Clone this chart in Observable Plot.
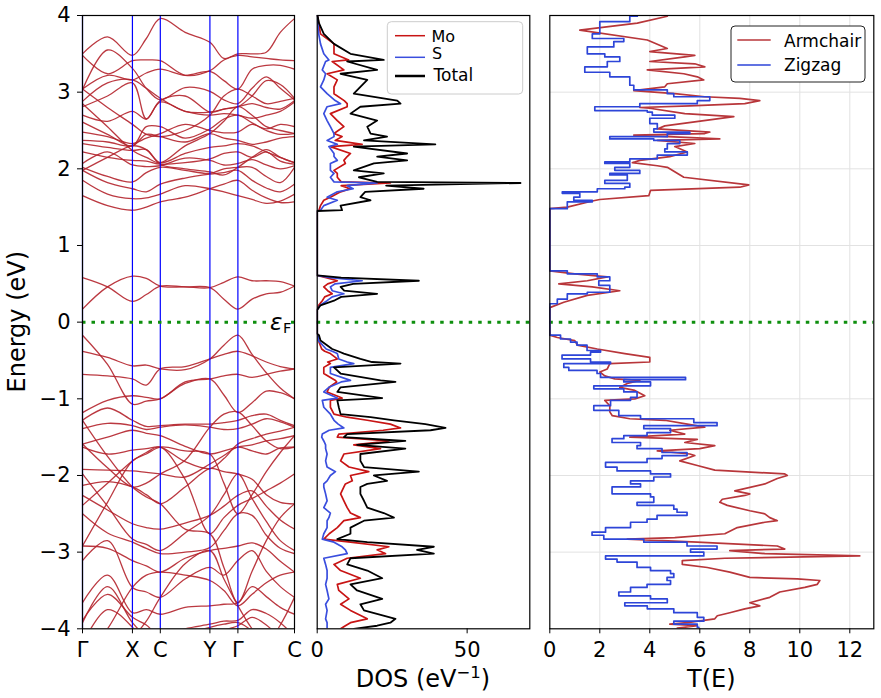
<!DOCTYPE html>
<html><head><meta charset="utf-8">
<script src="https://cdn.jsdelivr.net/npm/d3@7"></script>
<script src="https://cdn.jsdelivr.net/npm/@observablehq/plot@0.6"></script>
<style>
body{margin:0;background:#fff;}
#wrap{position:relative;width:881px;height:698px;overflow:hidden;background:#fff;font-family:"DejaVu Sans",sans-serif;}
#wrap svg{position:absolute;top:0;}
</style>
</head><body><div id="wrap"></div>
<script>
// ---------- Band structure ----------
const kSamples = [0, 0.118, 0.2355, 0.301, 0.367, 0.484, 0.601, 0.667, 0.733, 0.80, 0.867, 0.933, 1.0];
const kTicks = [0, 0.2355, 0.367, 0.601, 0.733, 1];
const kLabels = ["Γ", "X", "C", "Y", "Γ", "C"];
const eTicks = [-4, -3, -2, -1, 0, 1, 2, 3, 4];

const condBands = [
  [0.17, 0.46, 0.60, 0.57, 0.47, 0.46, 0.45, 0.52, 0.59, 0.54, 0.54, 0.53, 0.47],
  [0.58, 0.46, 0.27, 0.36, 0.47, 0.46, 0.45, 0.30, 0.17, 0.30, 0.37, 0.39, 0.47],
  [1.65, 1.52, 1.46, 1.50, 1.57, 1.63, 1.74, 1.80, 1.85, 1.72, 1.62, 1.56, 1.57],
  [1.85, 1.67, 1.61, 1.62, 1.67, 1.78, 1.74, 1.70, 1.65, 1.60, 1.55, 1.58, 1.67],
  [1.98, 1.82, 1.74, 1.70, 1.80, 1.88, 1.93, 1.95, 1.98, 1.85, 1.75, 1.70, 1.80],
  [2.02, 1.90, 1.83, 1.95, 2.02, 1.98, 1.94, 2.00, 2.02, 2.02, 1.90, 1.82, 2.02],
  [2.07, 2.22, 2.05, 2.03, 2.04, 2.14, 2.11, 2.05, 2.07, 2.12, 2.05, 2.00, 2.04],
  [2.22, 2.15, 2.11, 2.10, 2.06, 2.08, 2.13, 2.20, 2.22, 2.15, 2.22, 2.10, 2.06],
  [2.33, 2.28, 2.24, 2.25, 2.08, 2.20, 2.28, 2.30, 2.33, 2.30, 2.22, 2.15, 2.08],
  [2.37, 2.35, 2.30, 2.45, 2.42, 2.35, 2.46, 2.40, 2.37, 2.32, 2.35, 2.40, 2.42],
  [2.48, 2.42, 2.33, 2.40, 2.46, 2.58, 2.50, 2.47, 2.48, 2.58, 2.50, 2.45, 2.46],
  [2.61, 2.45, 2.30, 2.55, 2.55, 2.40, 2.52, 2.65, 2.70, 2.60, 2.52, 2.58, 2.55],
  [2.70, 2.62, 2.75, 2.65, 2.87, 2.75, 2.70, 2.72, 2.70, 2.66, 2.70, 2.75, 2.87],
  [2.81, 2.95, 3.12, 2.65, 2.89, 2.95, 2.74, 2.78, 2.81, 2.85, 2.80, 2.78, 2.89],
  [2.88, 3.12, 3.16, 3.05, 2.92, 2.75, 2.74, 2.78, 2.81, 2.95, 3.15, 3.10, 2.92],
  [3.03, 3.55, 3.31, 3.05, 2.90, 3.06, 3.01, 2.90, 2.85, 3.05, 3.20, 3.05, 2.90],
  [3.04, 3.22, 3.16, 3.25, 3.30, 3.22, 3.27, 3.15, 3.04, 3.30, 3.35, 3.35, 3.30],
  [3.48, 3.24, 3.41, 3.42, 3.41, 3.22, 3.28, 3.42, 3.48, 3.46, 3.44, 3.42, 3.41],
  [3.50, 3.72, 3.48, 3.70, 3.96, 3.78, 3.65, 3.44, 3.50, 3.50, 3.52, 3.78, 3.96],
  [1.98, 2.15, 2.30, 2.25, 2.06, 2.00, 1.96, 1.92, 2.02, 2.15, 2.25, 2.15, 2.08],
  [2.85, 2.55, 2.24, 2.15, 2.08, 2.30, 2.46, 2.62, 2.81, 2.70, 2.55, 2.50, 2.46],
  [3.04, 2.80, 2.58, 2.45, 2.42, 2.50, 2.70, 2.95, 3.04, 2.95, 2.85, 2.88, 2.92]
];
const valBands = [
  [-0.17, -0.55, -1.07, -1.03, -1.00, -0.80, -0.74, -0.95, -1.18, -1.05, -0.90, -0.92, -1.00],
  [-0.38, -0.46, -0.57, -0.56, -0.61, -0.62, -0.48, -0.30, -0.17, -0.42, -0.66, -0.86, -1.00],
  [-0.68, -0.70, -0.74, -0.82, -0.61, -0.58, -0.48, -0.42, -0.38, -0.44, -0.52, -0.58, -0.61],
  [-1.18, -1.02, -0.96, -0.98, -1.00, -0.78, -0.74, -0.70, -0.68, -0.72, -0.68, -0.64, -0.61],
  [-1.28, -1.12, -1.28, -1.36, -1.35, -1.33, -1.33, -1.31, -1.28, -1.22, -1.20, -1.28, -1.35],
  [-1.39, -1.32, -1.35, -1.40, -1.37, -1.34, -1.37, -1.40, -1.39, -1.33, -1.26, -1.30, -1.37],
  [-1.59, -1.50, -1.41, -1.45, -1.48, -1.62, -1.72, -1.68, -1.63, -1.60, -1.55, -1.52, -1.48],
  [-1.63, -1.72, -1.67, -1.65, -1.63, -1.82, -1.91, -1.78, -1.59, -1.52, -1.46, -1.42, -1.37],
  [-1.92, -1.93, -1.94, -1.96, -1.98, -2.02, -1.85, -1.74, -1.63, -1.68, -1.72, -1.64, -1.63],
  [-2.39, -2.10, -1.81, -1.70, -1.63, -2.05, -2.76, -2.55, -2.39, -2.30, -2.20, -2.10, -1.98],
  [-2.13, -2.08, -2.15, -2.25, -2.37, -2.15, -1.91, -1.95, -1.98, -2.05, -2.25, -2.35, -2.37],
  [-2.26, -2.45, -2.63, -2.68, -2.70, -2.62, -2.52, -2.40, -2.26, -2.20, -2.40, -2.58, -2.70],
  [-1.98, -2.40, -2.83, -2.90, -2.98, -2.75, -2.52, -2.25, -1.98, -2.30, -2.60, -2.85, -2.98],
  [-2.50, -2.75, -2.87, -2.95, -3.02, -3.00, -2.94, -2.72, -2.50, -2.52, -2.78, -2.95, -3.02],
  [-2.92, -2.95, -3.11, -3.18, -3.26, -3.08, -2.98, -2.95, -2.92, -2.88, -2.96, -3.12, -3.26],
  [-3.11, -2.85, -3.46, -3.52, -3.59, -3.35, -3.20, -3.30, -3.11, -2.98, -3.25, -3.45, -3.59],
  [-3.66, -3.30, -3.79, -3.75, -3.81, -3.72, -3.70, -3.68, -3.66, -3.45, -3.58, -3.72, -3.81],
  [-3.89, -3.55, -3.85, -3.95, -4.10, -4.00, -3.94, -3.90, -3.89, -3.75, -3.80, -3.92, -4.10],
  [-3.92, -3.45, -3.92, -4.10, -4.20, -4.08, -3.98, -3.94, -3.92, -4.02, -4.12, -4.05, -4.20],
  [-4.20, -3.75, -3.98, -4.25, -4.30, -4.20, -4.10, -4.02, -3.96, -3.85, -3.95, -4.12, -4.30],
  [-2.92, -2.35, -1.81, -1.72, -1.63, -1.68, -1.72, -2.10, -2.50, -2.25, -1.95, -1.70, -1.48],
  [-1.28, -1.75, -2.15, -2.28, -2.37, -2.70, -2.76, -3.20, -3.66, -3.25, -2.85, -2.55, -2.37],
  [-4.40, -4.00, -3.46, -3.30, -3.26, -3.30, -3.37, -3.50, -3.70, -3.55, -3.40, -3.30, -3.26],
  [-4.50, -4.20, -4.10, -3.90, -3.59, -3.15, -2.98, -3.35, -3.70, -4.00, -4.20, -3.95, -3.59],
  [-1.59, -1.90, -2.15, -2.10, -1.98, -1.80, -1.37, -1.20, -1.17, -1.35, -1.55, -1.65, -1.63]
];

// ---------- DOS (eV^-1) ----------
const dosE_val = [-4.00,-3.96,-3.92,-3.87,-3.76,-3.68,-3.61,-3.50,-3.42,-3.34,-3.24,-3.16,-3.08,-3.02,-2.97,-2.93,-2.87,-2.83,-2.76,-2.68,-2.59,-2.55,-2.49,-2.42,-2.33,-2.24,-2.15,-2.11,-2.07,-2.00,-1.95,-1.89,-1.81,-1.72,-1.65,-1.60,-1.55,-1.50,-1.46,-1.41,-1.38,-1.33,-1.28,-1.24,-1.20,-1.11,-1.02,-0.99,-0.91,-0.85,-0.78,-0.76,-0.67,-0.59,-0.54,-0.52,-0.48,-0.41,-0.38,-0.35,-0.24,-0.17,-0.15];
const dosTot_val = [12.2,20.0,24.4,26.1,15.6,14.4,21.7,13.3,11.1,21.7,16.7,10.0,11.1,38.9,33.3,38.9,16.7,6.7,11.1,11.1,15.6,25.6,22.2,16.7,15.6,14.4,14.4,16.7,23.3,18.9,33.9,15.6,14.4,14.4,29.4,13.3,29.4,8.9,10.0,37.8,42.8,36.1,25.6,17.8,7.8,7.2,6.7,21.7,6.7,7.8,26.1,21.1,7.8,5.6,27.8,18.3,14.4,8.9,7.0,5.0,1.1,0.6,0];
const dosMo_val = [7.8,9.4,11.1,16.7,11.1,7.8,10.6,7.2,6.7,14.4,7.8,5.6,10.0,22.8,20.0,23.9,11.1,2.2,4.0,6.7,8.9,14.4,11.1,10.0,8.9,7.8,8.9,9.4,11.7,11.1,17.2,10.6,7.8,8.9,21.1,12.2,23.9,6.7,7.2,22.0,27.8,24.4,16.7,10.0,5.6,4.4,4.4,8.3,3.3,4.0,6.5,6.1,2.2,2.2,4.4,3.5,6.7,4.4,2.5,1.5,0.4,0.3,0];
const dosS_val = [3.3,3.3,3.3,2.8,3.3,2.8,3.9,3.3,2.8,3.3,3.3,2.8,2.2,10.0,9.4,8.3,5.6,1.7,2.2,3.3,3.3,3.9,4.4,2.2,3.3,2.8,2.2,2.2,3.3,4.4,6.1,3.3,2.8,3.3,2.8,2.8,2.2,1.5,1.7,4.0,8.9,7.0,5.6,5.0,4.4,2.2,1.7,6.7,2.2,3.9,8.0,11.1,4.4,4.4,12.2,10.0,7.2,6.7,5.0,3.0,0.4,0.3,0];

const dosE_mid = [0.16,0.22,0.28,0.33,0.37,0.41,0.46,0.50,0.54,0.58,0.61];
const dosTot_mid = [0,1.1,5.6,8.0,20.0,9.0,7.8,12.0,33.9,8.0,0];
const dosMo_mid = [0,0.5,1.7,2.5,5.0,3.5,2.2,3.5,6.7,3.0,0];
const dosS_mid = [0,1.0,3.3,5.0,8.9,5.0,4.4,6.0,15.0,4.4,0];

const dosE_con = [1.45,1.46,1.52,1.59,1.63,1.70,1.74,1.78,1.815,1.83,1.89,1.94,1.98,2.07,2.11,2.16,2.20,2.29,2.32,2.37,2.42,2.46,2.55,2.63,2.72,2.81,2.85,2.89,2.98,3.07,3.16,3.24,3.29,3.40,3.42,3.50,3.63,3.76,3.90,3.98,4.00];
const dosTot_con = [0,8.3,7.8,17.8,14.4,16.0,35.5,23.0,67.8,20.0,13.9,22.2,12.2,18.9,30.0,20.0,30.0,12.2,39.4,15.6,23.3,17.8,16.7,20.0,11.1,14.4,27.8,26.7,12.2,14.4,16.7,7.8,20.0,10.0,22.2,11.1,5.6,2.2,0.6,0.2,0];
const dosMo_con = [0,0.6,1.1,2.2,4.4,7.8,11.0,8.0,24.4,8.0,6.7,6.7,5.6,9.4,8.9,10.0,11.1,4.4,15.0,6.0,8.3,5.6,8.9,6.7,4.4,10.0,10.0,9.0,5.6,5.6,6.7,3.3,8.9,5.0,10.5,5.6,5.6,1.1,0.5,0.2,0];
const dosS_con = [0,1.1,2.2,6.7,3.3,6.7,12.0,10.0,20.0,5.6,4.4,5.6,4.4,4.4,6.7,5.6,5.6,3.9,6.7,3.3,5.6,5.6,4.4,3.3,2.2,3.3,7.8,6.0,3.3,1.1,2.2,2.8,1.7,2.8,3.9,2.2,1.1,0.5,0.2,0.1,0];

// ---------- Transmission T(E) ----------
const armE_val = [-3.99,-3.96,-3.94,-3.92,-3.87,-3.83,-3.79,-3.74,-3.70,-3.66,-3.59,-3.52,-3.46,-3.42,-3.37,-3.35,-3.33,-3.26,-3.20,-3.16,-3.11,-3.08,-3.05,-3.02,-2.98,-2.96,-2.92,-2.87,-2.83,-2.81,-2.76,-2.68,-2.61,-2.59,-2.55,-2.50,-2.46,-2.39,-2.35,-2.31,-2.26,-2.24,-2.20,-2.11,-2.04,-2.00,-1.98,-1.93,-1.87,-1.81,-1.74,-1.72,-1.68,-1.65,-1.61,-1.57,-1.53,-1.50,-1.46,-1.41,-1.37,-1.33,-1.28,-1.26,-1.22,-1.17,-1.09,-1.02,-1.00,-0.96,-0.89,-0.85,-0.80,-0.76,-0.74,-0.70,-0.65,-0.61,-0.54,-0.52,-0.46,-0.41,-0.35,-0.30,-0.24,-0.20,-0.17];
const armT_val = [5.1,5.9,4.8,5.5,6.6,6.7,7.2,7.8,8.4,8.0,8.8,9.2,10.2,10.7,10.8,9.9,8.0,7.2,6.3,5.3,5.3,7.0,12.4,8.6,7.2,9.4,9.1,5.9,3.1,5.0,7.0,7.5,8.6,9.1,8.8,8.6,8.0,7.1,6.8,6.9,7.8,8.0,7.4,8.6,9.1,9.5,9.4,6.6,5.9,5.2,5.8,5.6,4.3,6.0,6.6,5.4,5.9,3.2,5.4,4.8,6.2,5.5,4.6,3.2,2.5,2.4,2.4,2.2,3.4,3.8,3.4,2.8,3.1,3.6,2.6,2.2,2.0,2.3,2.4,4.0,4.0,3.0,1.9,1.1,1.0,0.3,0];
const armE_mid = [0.19,0.26,0.35,0.41,0.46,0.50,0.54,0.59,0.63,0.67];
const armT_mid = [0,0.56,1.5,2.8,1.7,0.36,1.5,2.3,1.0,0];
const armE_con = [1.48,1.50,1.58,1.60,1.65,1.72,1.76,1.79,1.89,2.02,2.04,2.08,2.11,2.16,2.22,2.29,2.33,2.37,2.39,2.44,2.46,2.48,2.52,2.56,2.68,2.72,2.79,2.80,2.82,2.85,2.89,2.92,2.94,2.98,3.02,3.07,3.11,3.16,3.20,3.24,3.29,3.33,3.37,3.40,3.46,3.48,3.53,3.57,3.68,3.81,3.90,3.99];
const armT_con = [0,0.7,1.7,2.0,3.96,4.03,7.6,7.96,5.36,4.7,4.3,3.3,3.6,4.8,5.5,5.0,5.8,4.3,6.8,3.36,6.2,6.4,4.3,4.6,7.36,5.4,4.0,3.6,5.6,7.8,8.4,7.6,6.2,5.0,3.36,4.6,4.7,6.16,5.9,5.36,3.9,6.2,5.8,4.0,5.4,5.8,4.0,4.7,3.9,1.2,3.5,4.7];

const zigE_val = [-4.00,-3.98,-3.94,-3.90,-3.85,-3.79,-3.74,-3.70,-3.66,-3.61,-3.57,-3.52,-3.46,-3.42,-3.37,-3.33,-3.28,-3.24,-3.20,-3.13,-3.09,-3.05,-3.00,-2.96,-2.92,-2.87,-2.83,-2.78,-2.74,-2.68,-2.61,-2.57,-2.52,-2.48,-2.44,-2.39,-2.35,-2.28,-2.24,-2.15,-2.11,-2.07,-2.02,-1.98,-1.94,-1.89,-1.83,-1.78,-1.74,-1.70,-1.65,-1.61,-1.57,-1.52,-1.48,-1.44,-1.39,-1.35,-1.31,-1.26,-1.22,-1.15,-1.09,-1.02,-0.98,-0.91,-0.87,-0.83,-0.78,-0.75,-0.72,-0.67,-0.63,-0.59,-0.54,-0.52,-0.48,-0.43,-0.39,-0.37,-0.30,-0.26,-0.22,-0.17];
const zigT_val = [5.96,5.9,4.96,6.16,5.9,4.96,3.9,3.0,4.7,4.03,2.76,3.23,3.89,4.83,4.69,4.96,4.83,4.03,3.49,2.69,2.23,6.16,5.63,6.69,5.49,3.76,2.16,1.69,2.23,3.23,3.89,4.29,5.49,5.09,4.96,3.49,4.16,4.03,2.49,3.63,3.23,4.16,4.83,4.03,2.69,2.23,3.89,4.49,5.49,4.49,3.49,3.63,2.49,2.96,3.89,4.83,3.76,6.69,5.76,3.63,2.76,1.76,2.43,3.23,3.49,2.96,1.76,4.03,2.96,5.43,2.03,1.89,0.76,0.56,2.43,1.63,0.49,1.63,2.03,1.49,1.09,0.83,0.43,0];
const zigE_mid = [0.17,0.24,0.30,0.37,0.39,0.45,0.48,0.54,0.59,0.63,0.67];
const zigT_mid = [0,0.3,0.7,1.5,2.4,2.4,1.96,2.4,1.9,0.7,0];
const zigE_con = [1.44,1.48,1.57,1.59,1.63,1.68,1.70,1.74,1.76,1.81,1.85,1.92,1.94,1.98,2.02,2.07,2.09,2.13,2.18,2.22,2.26,2.33,2.37,2.39,2.42,2.46,2.48,2.52,2.59,2.66,2.70,2.74,2.76,2.81,2.85,2.89,2.94,2.98,3.03,3.09,3.16,3.20,3.26,3.33,3.40,3.46,3.50,3.59,3.66,3.70,3.76,3.85,3.92,3.99];
const zigT_con = [0,0.7,1.7,0.96,1.2,0.5,1.9,3.0,3.2,2.2,3.1,2.4,3.6,2.6,3.2,2.2,3.2,4.3,5.5,4.6,4.7,5.2,4.16,2.4,4.7,5.6,4.16,4.3,4.0,5.0,4.1,3.9,1.8,3.6,5.9,6.4,4.96,4.7,3.36,3.2,3.2,2.4,1.4,2.3,2.8,2.2,1.5,2.56,2.96,1.7,2.0,2.0,3.2,3.5];

const tTicks = [0, 2, 4, 6, 8, 10, 12];
const dosTicks = [0, 50];

// ---------- build tables ----------
const allBands = condBands.concat(valBands);
const bandRows = allBands.flatMap((b, i) => b.map((e, j) => ({band: i, k: kSamples[j], E: e})));
const dosE = dosE_val.concat(dosE_mid, dosE_con);
const dosTot = dosTot_val.concat(dosTot_mid, dosTot_con);
const dosMo = dosMo_val.concat(dosMo_mid, dosMo_con);
const dosS = dosS_val.concat(dosS_mid, dosS_con);
const dosRows = dosE.map((e, i) => ({E: e, mo: dosMo[i], s: dosS[i], tot: dosTot[i]}));
const armT = armT_val.concat(armT_mid, armT_con);
const zigT = zigT_val.concat(zigT_mid, zigT_con);
const armRows = armE_val.concat(armE_mid, armE_con).map((e, i) => ({E: e, T: armT[i]}));
const zigRows = zigE_val.concat(zigE_mid, zigE_con).map((e, i) => ({E: e, T: zigT[i]}));

const fmtE = d => (d < 0 ? "\u2212" + Math.abs(d) : String(d));
const GREEN = "#0e8f0e";
const baseStyle = {fontFamily: "DejaVu Sans", fontSize: "21px", color: "black", background: "transparent", overflow: "visible"};
const H = 698, MT = 15, MB = 69.7;

const p1 = Plot.plot({
  width: 300, height: H, marginLeft: 82, marginRight: 6, marginTop: MT, marginBottom: MB,
  style: baseStyle,
  x: {domain: [0, 1]},
  y: {domain: [-4, 4]},
  marks: [
    Plot.line(bandRows, {x: "k", y: "E", z: "band", stroke: "#b4242c", strokeOpacity: 0.9, strokeWidth: 1.3, curve: "catmull-rom", clip: true}),
    Plot.ruleX(kTicks.slice(0, 5), {stroke: "#0000ff", strokeWidth: 1.2}),
    Plot.ruleY([0], {stroke: GREEN, strokeWidth: 3, strokeDasharray: "3.5,6"}),
    Plot.frame({stroke: "black", strokeWidth: 1.2}),
    Plot.axisX({ticks: kTicks, tickFormat: d => kLabels[kTicks.indexOf(d)], tickSize: 5, tickPadding: 8, label: null}),
    Plot.axisY({ticks: eTicks, tickFormat: fmtE, tickSize: 5, tickPadding: 7, label: null})
  ]
});
p1.style.left = "0px";

const p2 = Plot.plot({
  width: 240, height: H, marginLeft: 16.7, marginRight: 10.7, marginTop: MT, marginBottom: MB,
  style: baseStyle,
  x: {domain: [0, 70.9]},
  y: {domain: [-4, 4], axis: null},
  marks: [
    Plot.ruleY([0], {stroke: GREEN, strokeWidth: 3, strokeDasharray: "3.5,6"}),
    Plot.line(dosRows, {x: "mo", y: "E", stroke: "#c81414", strokeWidth: 1.7, clip: true}),
    Plot.line(dosRows, {x: "s", y: "E", stroke: "#3a4ede", strokeWidth: 1.7, clip: true}),
    Plot.line(dosRows, {x: "tot", y: "E", stroke: "black", strokeWidth: 1.8, clip: true}),
    Plot.frame({stroke: "black", strokeWidth: 1.2}),
    Plot.axisX({ticks: dosTicks, tickSize: 5, tickPadding: 8, label: null})
  ]
});
p2.style.left = "300px";

const p3 = Plot.plot({
  width: 351, height: H, marginLeft: 19.3, marginRight: 7.7, marginTop: MT, marginBottom: MB,
  style: baseStyle,
  x: {domain: [0, 12.96]},
  y: {domain: [-4, 4], axis: null},
  marks: [
    Plot.ruleX(tTicks.slice(1), {stroke: "#e2e2e2", strokeWidth: 1}),
    Plot.ruleY([-3, -2, -1, 1, 2, 3], {stroke: "#e2e2e2", strokeWidth: 1}),
    Plot.ruleY([0], {stroke: GREEN, strokeWidth: 3, strokeDasharray: "3.5,6"}),
    Plot.line(armRows, {x: "T", y: "E", stroke: "#b8363a", strokeWidth: 1.7, clip: true}),
    Plot.line(zigRows, {x: "T", y: "E", stroke: "#2d45d8", strokeWidth: 1.7, curve: "step-before", clip: true}),
    Plot.frame({stroke: "black", strokeWidth: 1.2}),
    Plot.axisX({ticks: tTicks, tickSize: 5, tickPadding: 8, label: null})
  ]
});
p3.style.left = "530px";

const wrap = document.getElementById("wrap");
wrap.append(p1, p2, p3);

// overlay: axis titles, legends, Fermi label
const ns = "http://www.w3.org/2000/svg";
const ov = document.createElementNS(ns, "svg");
ov.setAttribute("width", 881); ov.setAttribute("height", 698);
ov.style.left = "0px";
ov.setAttribute("font-family", "DejaVu Sans");
ov.innerHTML = `
  <text transform="translate(25,321.7) rotate(-90)" text-anchor="middle" font-size="24">Energy (eV)</text>
  <text x="423" y="686.5" text-anchor="middle" font-size="24">DOS (eV<tspan dy="-9" font-size="16.5">\u22121</tspan><tspan dy="9">)</tspan></text>
  <text x="711.3" y="686.5" text-anchor="middle" font-size="24">T(E)</text>
  <rect x="266" y="311" width="23" height="25" fill="white"/>
  <text x="270" y="329.5" font-size="23" font-style="italic">\u03b5</text>
  <text x="283" y="333" font-size="14.5">F</text>
  <rect x="387.3" y="21.7" width="135.4" height="72.3" rx="4" fill="white" fill-opacity="0.85" stroke="#cccccc" stroke-width="1"/>
  <line x1="395" x2="425" y1="35.7" y2="35.7" stroke="#c81414" stroke-width="1.5"/>
  <line x1="395" x2="425" y1="57.3" y2="57.3" stroke="#3a4ede" stroke-width="1.5"/>
  <line x1="395" x2="425" y1="76" y2="76" stroke="black" stroke-width="2.5"/>
  <text x="431.5" y="41.5" font-size="16">Mo</text>
  <text x="432" y="59" font-size="16">S</text>
  <text x="433.5" y="80.5" font-size="17">Total</text>
  <rect x="731" y="26" width="134" height="56" rx="4" fill="white" stroke="#222" stroke-width="1"/>
  <line x1="737.3" x2="770.7" y1="40" y2="40" stroke="#b8363a" stroke-width="1.5"/>
  <line x1="737.3" x2="770.7" y1="65" y2="65" stroke="#2d45d8" stroke-width="1.5"/>
  <text x="784" y="46.5" font-size="17">Armchair</text>
  <text x="784" y="71" font-size="17">Zigzag</text>
`;
wrap.append(ov);
</script></body></html>
